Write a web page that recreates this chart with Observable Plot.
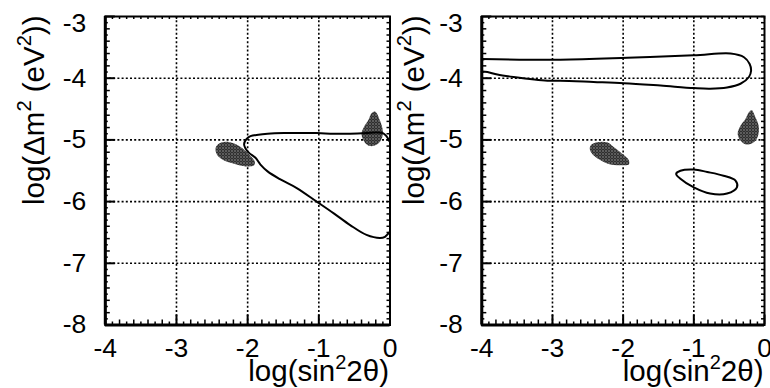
<!DOCTYPE html>
<html>
<head>
<meta charset="utf-8">
<script src="https://cdn.jsdelivr.net/npm/d3@7"></script>
<script src="https://cdn.jsdelivr.net/npm/@observablehq/plot@0.6"></script>
<style>
  html, body { margin: 0; padding: 0; background: white; }
  #wrap { position: relative; width: 770px; height: 388px; overflow: hidden; font-family: "Liberation Sans", Arial, sans-serif; }
  #wrap svg { position: absolute; top: 0; }
</style>
</head>
<body>
<div id="wrap"></div>
<script>
// ---- axis ticks / labels ----
const xMajor = [-4, -3, -2, -1, 0];
const yMajor = [-8, -7, -6, -5, -4, -3];
const xGrid = [-3, -2, -1];
const yGrid = [-7, -6, -5, -4];
const xTitle = "log(sin²2θ)";
const yTitle = "log(Δm² (eV²))";

// ---- left panel data: [log sin^2 2θ, log Δm^2] ----
const leftContour = [
  [-0.01, -5.02], [-0.05, -4.94], [-0.10, -4.89], [-0.20, -4.88], [-0.33, -4.89],
  [-0.56, -4.90], [-0.79, -4.90], [-1.03, -4.89], [-1.26, -4.89], [-1.49, -4.89],
  [-1.72, -4.90], [-1.85, -4.915], [-1.96, -4.94], [-2.02, -4.99], [-2.05, -5.07],
  [-2.03, -5.14], [-1.98, -5.21], [-1.89, -5.29], [-1.82, -5.40], [-1.72, -5.51],
  [-1.54, -5.64], [-1.31, -5.78], [-1.03, -6.00], [-0.79, -6.19], [-0.56, -6.38],
  [-0.33, -6.54], [-0.14, -6.59], [-0.07, -6.57], [-0.01, -6.50]
];
const leftBlobA = [
  [-2.45, -5.13], [-2.40, -5.06], [-2.31, -5.03], [-2.21, -5.05], [-2.12, -5.10],
  [-2.03, -5.18], [-1.96, -5.26], [-1.90, -5.35], [-1.91, -5.41], [-2.00, -5.43],
  [-2.12, -5.41], [-2.24, -5.37], [-2.35, -5.32], [-2.43, -5.24]
];
const leftBlobB = [
  [-0.21, -4.54], [-0.14, -4.69], [-0.10, -4.86], [-0.12, -4.99], [-0.19, -5.08],
  [-0.28, -5.10], [-0.35, -5.05], [-0.40, -4.91], [-0.37, -4.80], [-0.30, -4.67],
  [-0.26, -4.57]
];

// ---- right panel data ----
const rightContourA = [
  [-4.00, -3.69], [-2.89, -3.70], [-1.94, -3.67], [-1.00, -3.63], [-0.48, -3.60],
  [-0.29, -3.66], [-0.21, -3.77], [-0.19, -3.88], [-0.22, -3.98], [-0.34, -4.09],
  [-0.53, -4.15], [-0.77, -4.17], [-1.00, -4.16], [-1.47, -4.12], [-1.99, -4.08],
  [-2.42, -4.06], [-2.89, -4.04], [-3.07, -4.04], [-3.55, -3.98], [-3.78, -3.94],
  [-3.92, -3.90], [-4.00, -3.89]
];
const rightContourB = [
  [-1.25, -5.55], [-1.19, -5.63], [-1.00, -5.77], [-0.77, -5.87], [-0.53, -5.87],
  [-0.39, -5.77], [-0.41, -5.66], [-0.58, -5.58], [-0.81, -5.52], [-1.00, -5.48],
  [-1.19, -5.50]
];
const rightBlobA = [
  [-2.46, -5.09], [-2.37, -5.04], [-2.23, -5.04], [-2.13, -5.12], [-2.01, -5.23],
  [-1.92, -5.33], [-1.92, -5.40], [-2.04, -5.41], [-2.18, -5.40], [-2.32, -5.33],
  [-2.42, -5.25], [-2.47, -5.16]
];
const rightBlobB = [
  [-0.18, -4.52], [-0.13, -4.63], [-0.08, -4.79], [-0.10, -4.96], [-0.18, -5.06],
  [-0.27, -5.07], [-0.34, -5.01], [-0.38, -4.90], [-0.34, -4.77], [-0.27, -4.66],
  [-0.22, -4.55]
];

// minor tick positions (every 0.1, medium every 0.2)
const tenths = (lo, hi) => d3.range(Math.round(lo * 10), Math.round(hi * 10) + 1).map(i => i / 10);
const xAll = tenths(-4, 0), yAll = tenths(-8, -3);
const isInt = v => Math.abs(v - Math.round(v)) < 1e-9;
const isEven = v => Math.round(v * 10) % 2 === 0;
const xMed = xAll.filter(v => !isInt(v) && isEven(v)), xSmall = xAll.filter(v => !isInt(v) && !isEven(v));
const yMed = yAll.filter(v => !isInt(v) && isEven(v)), ySmall = yAll.filter(v => !isInt(v) && !isEven(v));

const fmt = d => String(d);
const P = d => d[0], Q = d => d[1];
const TICK_FS = 26.5, TITLE_FS = 29.5;

function panel({width, marginLeft, marginRight, contours, closedContours, blobs, pid, yTitleDx}) {
  const height = 388, marginTop = 16, marginBottom = 63.5;
  const innerW = width - marginLeft - marginRight;
  const innerH = height - marginTop - marginBottom;
  const marks = [
    Plot.ruleX(xGrid, {x: d => d, strokeWidth: 1.6, strokeDasharray: "2,2.2"}),
    Plot.ruleY(yGrid, {y: d => d, strokeWidth: 1.6, strokeDasharray: "2,2.2"}),
    ...blobs.map(b => Plot.line(b, {x: P, y: Q, curve: "catmull-rom-closed", fill: `url(#${pid})`, stroke: "none"})),
    ...contours.map(c => Plot.line(c, {x: P, y: Q, curve: "catmull-rom", stroke: "black", strokeWidth: 2})),
    ...closedContours.map(c => Plot.line(c, {x: P, y: Q, curve: "catmull-rom-closed", stroke: "black", strokeWidth: 2})),
    // inner ticks bottom
    Plot.tickX(xMajor, {x: d => d, insetTop: innerH - 10, strokeWidth: 2}),
    Plot.tickX(xMed, {x: d => d, insetTop: innerH - 5, strokeWidth: 1.5}),
    Plot.tickX(xSmall, {x: d => d, insetTop: innerH - 3, strokeWidth: 1.5}),
    // inner ticks left
    Plot.tickY(yMajor, {y: d => d, insetRight: innerW - 10, strokeWidth: 2}),
    Plot.tickY(yMed, {y: d => d, insetRight: innerW - 5, strokeWidth: 1.5}),
    Plot.tickY(ySmall, {y: d => d, insetRight: innerW - 3, strokeWidth: 1.5}),
    // mirrored ticks top / right
    Plot.tickX(xAll, {x: d => d, insetBottom: innerH - 3, strokeWidth: 1.5}),
    Plot.tickY(yAll, {y: d => d, insetLeft: innerW - 3, strokeWidth: 1.5}),
    Plot.frame({strokeWidth: 2}),
    Plot.ruleX([-4], {x: d => d, strokeWidth: 3}),
    Plot.ruleY([-8], {y: d => d, strokeWidth: 3}),
    // tick labels
    Plot.text(xMajor, {x: d => d, text: fmt, frameAnchor: "bottom", lineAnchor: "top", dy: 13, fontSize: TICK_FS}),
    Plot.text(yMajor.filter(v => v !== -3), {y: d => d, text: fmt, frameAnchor: "left", textAnchor: "end", dx: -19, fontSize: TICK_FS}),
    Plot.text([-3], {y: d => d, text: fmt, frameAnchor: "left", textAnchor: "end", dx: -19, dy: 7, fontSize: TICK_FS}),
    // axis titles
    Plot.text([xTitle], {frameAnchor: "bottom-right", textAnchor: "end", lineAnchor: "bottom", dx: -1, dy: 56, fontSize: TITLE_FS}),
    Plot.text([yTitle], {frameAnchor: "top-left", rotate: -90, textAnchor: "end", lineAnchor: "bottom", dx: yTitleDx, dy: -1, fontSize: TITLE_FS})
  ];
  const svg = Plot.plot({
    width, height, marginLeft, marginRight, marginTop, marginBottom,
    x: {domain: [-4, 0], axis: null},
    y: {domain: [-8, -3], axis: null},
    style: {background: "transparent", overflow: "visible", fontFamily: "'Liberation Sans', Arial, sans-serif", color: "black"},
    marks
  });
  // checker pattern for the shaded regions
  const ns = "http://www.w3.org/2000/svg";
  const defs = document.createElementNS(ns, "defs");
  defs.innerHTML = `<pattern id="${pid}" width="3" height="3" patternUnits="userSpaceOnUse">
      <rect x="0" y="0" width="3" height="3" fill="#111"/>
      <rect x="0" y="0" width="1" height="1" fill="white"/>
      <rect x="1.5" y="1.5" width="1" height="1" fill="white"/></pattern>`;
  svg.insertBefore(defs, svg.firstChild);
  // superscripts
  svg.querySelectorAll("text").forEach(t => {
    const s = t.textContent;
    if (!s.includes("²")) return;
    t.textContent = "";
    const parts = s.split("²");
    parts.forEach((p, i) => {
      const a = document.createElementNS(ns, "tspan");
      a.textContent = p;
      if (i > 0) a.setAttribute("dy", "0.42em");
      t.appendChild(a);
      if (i < parts.length - 1) {
        const b = document.createElementNS(ns, "tspan");
        b.textContent = "2";
        b.setAttribute("font-size", "0.68em");
        b.setAttribute("dy", "-0.62em");
        t.appendChild(b);
      }
    });
  });
  return svg;
}

const wrap = document.getElementById("wrap");
const left = panel({width: 400, marginLeft: 104.8, marginRight: 10.5,
  contours: [leftContour], closedContours: [], blobs: [leftBlobA, leftBlobB], pid: "dotsL", yTitleDx: -61.5});
left.style.left = "0px";
const right = panel({width: 390, marginLeft: 101.3, marginRight: 6,
  contours: [rightContourA], closedContours: [rightContourB], blobs: [rightBlobA, rightBlobB], pid: "dotsR", yTitleDx: -58});
right.style.left = "380px";
wrap.appendChild(left);
wrap.appendChild(right);
</script>
</body>
</html>
